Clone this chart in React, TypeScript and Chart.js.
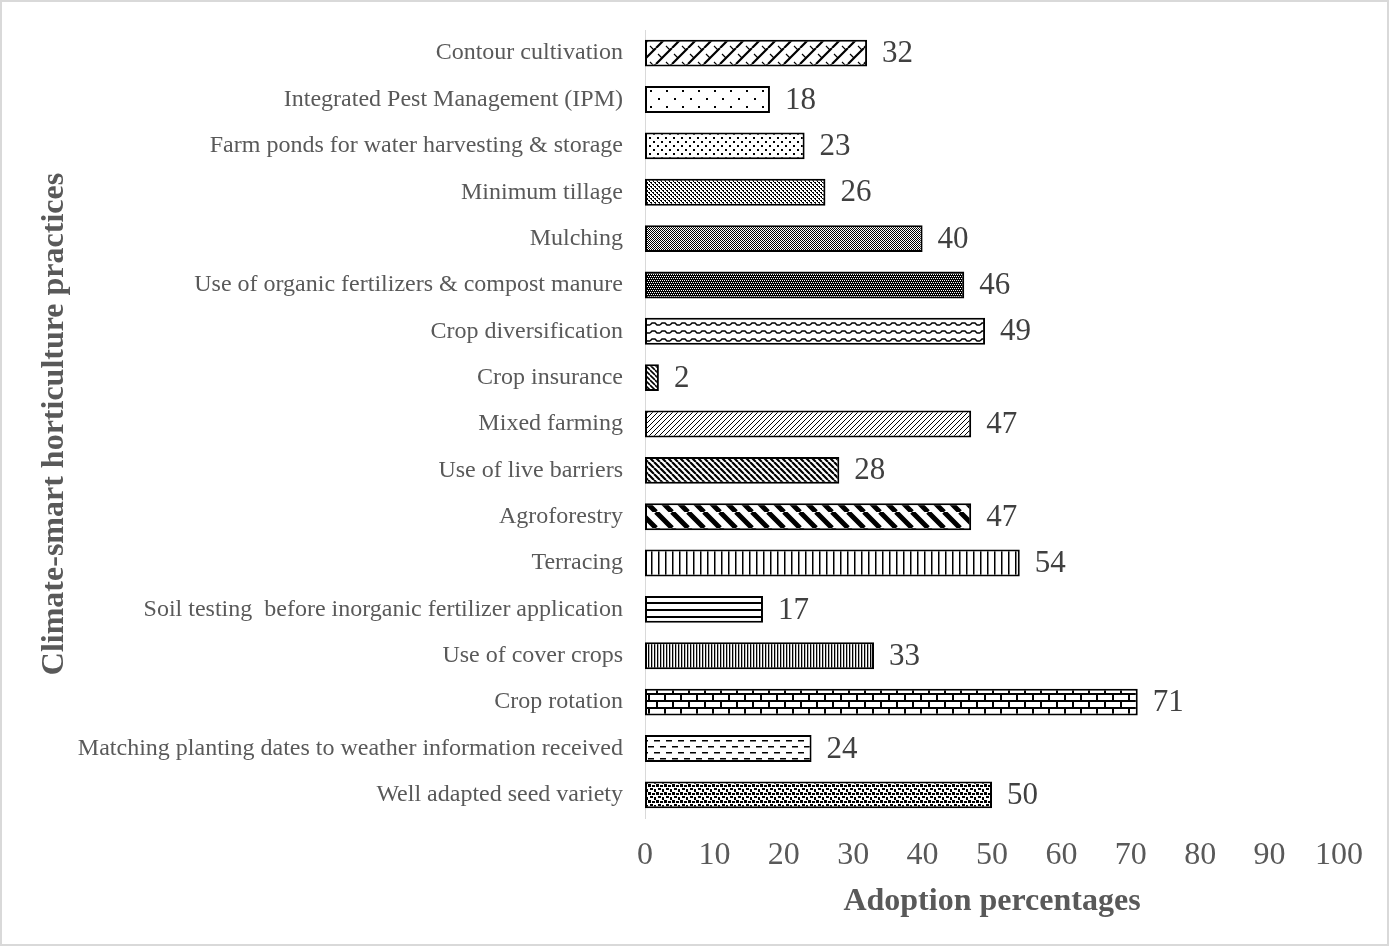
import React, { useEffect, useRef } from "react";
import { Chart, registerables } from "chart.js";

Chart.register(...registerables);

const categories = [
  "Contour cultivation",
  "Integrated Pest Management (IPM)",
  "Farm ponds for water harvesting & storage",
  "Minimum tillage",
  "Mulching",
  "Use of organic fertilizers & compost manure",
  "Crop diversification",
  "Crop insurance",
  "Mixed farming",
  "Use of live barriers",
  "Agroforestry",
  "Terracing",
  "Soil testing  before inorganic fertilizer application",
  "Use of cover crops",
  "Crop rotation",
  "Matching planting dates to weather information received",
  "Well adapted seed variety",
];

const adoption = [32, 18, 23, 26, 40, 46, 49, 2, 47, 28, 47, 54, 17, 33, 71, 24, 50];

const xTickValues = [0, 10, 20, 30, 40, 50, 60, 70, 80, 90, 100];

const patternKinds = [
  "diagcross",
  "dotsSparse",
  "dotsLight",
  "dots25",
  "dots50",
  "dots75",
  "wave",
  "darkDown",
  "lightUp",
  "darkDown2",
  "wideDown",
  "vert",
  "horiz",
  "darkVert",
  "brick",
  "dashH",
  "confetti",
];

const FONT = "'Liberation Serif', 'Times New Roman', serif";

function tile(w: number, h: number, draw: (g: CanvasRenderingContext2D, w: number, h: number) => void) {
  const c = document.createElement("canvas");
  c.width = w;
  c.height = h;
  const g = c.getContext("2d")!;
  g.fillStyle = "#fff";
  g.fillRect(0, 0, w, h);
  g.fillStyle = "#000";
  g.strokeStyle = "#000";
  draw(g, w, h);
  return g.createPattern(c, "repeat") as CanvasPattern;
}

function diagDown(g: CanvasRenderingContext2D, s: number, lw: number) {
  g.lineWidth = lw;
  g.beginPath();
  for (const k of [-s, 0, s]) {
    g.moveTo(k, 0);
    g.lineTo(k + s, s);
  }
  g.stroke();
}
function diagUp(g: CanvasRenderingContext2D, s: number, lw: number) {
  g.lineWidth = lw;
  g.beginPath();
  for (const k of [-s, 0, s]) {
    g.moveTo(k, s);
    g.lineTo(k + s, 0);
  }
  g.stroke();
}

function makePattern(kind: string): CanvasPattern {
  switch (kind) {
    case "diagcross":
      return tile(16, 16, (g) => {
        diagUp(g, 16, 2.2);
        g.lineWidth = 1.2;
        g.beginPath();
        g.moveTo(2, 6);
        g.lineTo(6, 10);
        g.moveTo(10, 14);
        g.lineTo(14, 18);
        g.moveTo(10, -2);
        g.lineTo(14, 2);
        g.stroke();
      });
    case "dotsSparse":
      return tile(16, 16, (g) => {
        g.fillRect(2, 2, 2, 2);
        g.fillRect(10, 10, 2, 2);
      });
    case "dotsLight":
      return tile(8, 8, (g) => {
        g.fillRect(1, 1, 2, 2);
        g.fillRect(5, 5, 2, 2);
      });
    case "dots25":
      return tile(4, 4, (g) => {
        g.fillRect(0, 0, 2, 1);
        g.fillRect(2, 2, 2, 1);
        g.fillRect(1, 1, 1, 1);
        g.fillRect(3, 3, 1, 1);
      });
    case "dots50":
      return tile(2, 2, (g) => {
        g.fillRect(0, 0, 1, 1);
        g.fillRect(1, 1, 1, 1);
      });
    case "dots75":
      return tile(4, 4, (g) => {
        g.fillRect(0, 0, 4, 4);
        g.fillStyle = "#fff";
        g.fillRect(0, 0, 1, 1);
        g.fillRect(2, 0, 1, 1);
        g.fillRect(1, 2, 1, 1);
        g.fillRect(3, 2, 1, 1);
      });
    case "wave":
      return tile(10, 8, (g) => {
        g.lineWidth = 1.5;
        g.beginPath();
        g.moveTo(0, 5);
        g.lineTo(2, 3);
        g.lineTo(5, 3);
        g.lineTo(7, 5);
        g.lineTo(10, 5);
        g.stroke();
      });
    case "darkDown":
      return tile(5, 5, (g) => diagDown(g, 5, 1.6));
    case "lightUp":
      return tile(5, 5, (g) => diagUp(g, 5, 1));
    case "darkDown2":
      return tile(6, 6, (g) => diagDown(g, 6, 2.2));
    case "wideDown":
      return tile(16, 16, (g) => diagDown(g, 16, 5));
    case "vert":
      return tile(7, 4, (g) => g.fillRect(0, 0, 1.5, 4));
    case "horiz":
      return tile(4, 7, (g) => g.fillRect(0, 0, 4, 2));
    case "darkVert":
      return tile(3, 4, (g) => g.fillRect(0, 0, 1.3, 4));
    case "brick":
      return tile(16, 14, (g) => {
        g.fillRect(0, 0, 16, 2);
        g.fillRect(0, 7, 16, 2);
        g.fillRect(0, 0, 2, 7);
        g.fillRect(8, 7, 2, 7);
      });
    case "dashH":
      return tile(12, 12, (g) => {
        g.fillRect(0, 2, 6, 1.5);
        g.fillRect(6, 8, 6, 1.5);
      });
    case "confetti":
      return tile(8, 8, (g) => {
        g.fillRect(0, 0, 3, 3);
        g.fillRect(4, 1, 3, 2);
        g.fillRect(2, 4, 3, 2);
        g.fillRect(6, 5, 2, 3);
      });
    default:
      return tile(4, 4, () => {});
  }
}

const backgroundPlugin = {
  id: "bgBorder",
  beforeDraw(chart: any) {
    const { ctx, width, height } = chart;
    ctx.save();
    ctx.fillStyle = "#ffffff";
    ctx.fillRect(0, 0, width, height);
    ctx.strokeStyle = "#d9d9d9";
    ctx.lineWidth = 2;
    ctx.strokeRect(1, 1, width - 2, height - 2);
    ctx.restore();
  },
};

const valueLabelPlugin = {
  id: "valueLabels",
  afterDatasetsDraw(chart: any) {
    const { ctx } = chart;
    const meta = chart.getDatasetMeta(0);
    const values = chart.data.datasets[0].data as number[];
    ctx.save();
    ctx.font = `31px ${FONT}`;
    ctx.fillStyle = "#404040";
    ctx.textAlign = "left";
    ctx.textBaseline = "middle";
    meta.data.forEach((bar: any, i: number) => {
      ctx.fillText(String(values[i]), bar.x + 15, bar.y + 1);
    });
    ctx.restore();
  },
};

export default function App() {
  const canvasRef = useRef<HTMLCanvasElement | null>(null);

  useEffect(() => {
    document.body.style.margin = "0";
    const canvas = canvasRef.current;
    if (!canvas) return;
    const patterns = patternKinds.map((k) => makePattern(k));
    const chart = new Chart(canvas, {
      type: "bar",
      data: {
        labels: categories,
        datasets: [
          {
            data: adoption,
            backgroundColor: patterns as any,
            borderColor: "#000000",
            borderWidth: 2,
            borderSkipped: false,
            barPercentage: 0.58,
            categoryPercentage: 1,
          },
        ],
      },
      options: {
        indexAxis: "y",
        responsive: false,
        animation: false,
        devicePixelRatio: 1,
        layout: { padding: { left: 0, right: 50, top: 30, bottom: 0 } },
        plugins: {
          legend: { display: false },
          tooltip: { enabled: false },
          title: { display: false },
        },
        scales: {
          x: {
            type: "linear",
            min: 0,
            max: 100,
            afterBuildTicks: (scale: any) => {
              scale.ticks = xTickValues.map((v) => ({ value: v }));
            },
            grid: { display: false, drawTicks: false },
            border: { display: false },
            ticks: {
              font: { family: FONT, size: 32 },
              color: "#595959",
              padding: 18,
              maxRotation: 0,
              autoSkip: false,
            },
            title: {
              display: true,
              text: "Adoption percentages",
              font: { family: FONT, size: 32, weight: "bold" },
              color: "#595959",
              padding: { top: 0, bottom: 25 },
            },
            afterFit: (scale: any) => {
              scale.height = 128;
              scale.paddingLeft = 0;
              scale.paddingRight = 0;
            },
          },
          y: {
            type: "category",
            grid: { display: false, drawTicks: false },
            border: { display: true, color: "#d9d9d9", width: 1 },
            ticks: {
              font: { family: FONT, size: 24 },
              color: "#595959",
              padding: 22,
              autoSkip: false,
            },
            title: {
              display: true,
              text: "Climate-smart horticulture practices",
              font: { family: FONT, size: 32, weight: "bold" },
              color: "#595959",
              padding: { top: 36, bottom: 0 },
            },
            afterFit: (scale: any) => {
              scale.width = 645;
              scale.paddingTop = 0;
              scale.paddingBottom = 0;
            },
          },
        },
      },
      plugins: [backgroundPlugin, valueLabelPlugin],
    } as any);
    return () => chart.destroy();
  }, []);

  return (
    <div style={{ width: 1389, height: 946, position: "absolute", left: 0, top: 0 }}>
      <canvas ref={canvasRef} width={1389} height={946} style={{ width: 1389, height: 946, display: "block" }} />
    </div>
  );
}
